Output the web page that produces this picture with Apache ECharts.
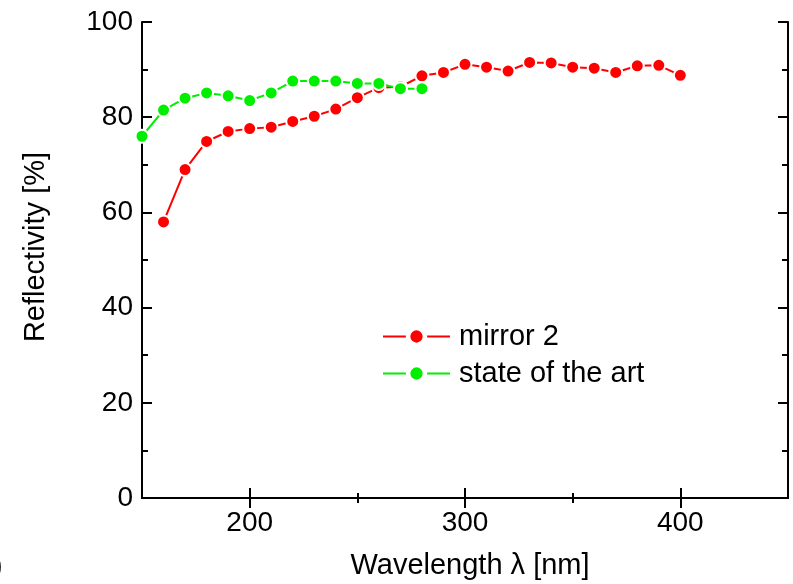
<!DOCTYPE html>
<html>
<head>
<meta charset="utf-8">
<script src="https://cdn.jsdelivr.net/npm/echarts@6/dist/echarts.min.js"></script>
<style>
  html, body { margin: 0; padding: 0; background: #fff; }
  #chart { width: 793px; height: 584px; }
</style>
</head>
<body>
<div id="chart"></div>
<script>
// Reflectivity spectra (wavelength in nm, reflectivity in %)
const mirrorWavelength = [160, 170, 180, 190, 200, 210, 220, 230, 240, 250, 260, 270, 280, 290, 300, 310, 320, 330, 340, 350, 360, 370, 380, 390, 400];
const mirrorReflectivity = [58.0, 69.0, 74.9, 77.0, 77.6, 77.9, 79.1, 80.2, 81.7, 84.1, 86.2, 86.4, 88.7, 89.4, 91.1, 90.5, 89.7, 91.5, 91.4, 90.5, 90.3, 89.4, 90.8, 90.9, 88.8];

const artWavelength = [150, 160, 170, 180, 190, 200, 210, 220, 230, 240, 250, 260, 270, 280];
const artReflectivity = [76.0, 81.5, 84.0, 85.1, 84.5, 83.5, 85.1, 87.6, 87.6, 87.6, 87.1, 87.1, 86.0, 86.0];

const seriesNames = ['mirror 2', 'state of the art'];
const xMajorTicks = [200, 300, 400];
const xMinorTicks = [250, 350];
const yMajorTicks = [0, 20, 40, 60, 80, 100];
const yMinorTicks = [10, 30, 50, 70, 90];

const FONT = '"Liberation Sans", Arial, Helvetica, sans-serif';
const FS_TICK = 28;
const FS_TEXT = 29;

const zip = (xs, ys) => xs.map((x, i) => [x, ys[i]]);

const chart = echarts.init(document.getElementById('chart'), null, { renderer: 'canvas' });

const lineAxis = { show: true, lineStyle: { color: '#000', width: 2 } };
const noLine = { show: false };

function xAx(pos, ticks, len, labels, line) {
  return {
    type: 'value', position: pos, min: 150, max: 450, interval: 50,
    axisLine: line ? lineAxis : noLine,
    splitLine: { show: false },
    axisTick: { show: true, inside: true, length: len, customValues: ticks, lineStyle: { color: '#000', width: 2 } },
    axisLabel: labels ? { show: true, customValues: xMajorTicks, color: '#000', fontFamily: FONT, fontSize: FS_TICK, margin: 11 } : { show: false }
  };
}
function yAx(pos, ticks, len, labels, line) {
  return {
    type: 'value', position: pos, min: 0, max: 100, interval: 10,
    axisLine: line ? lineAxis : noLine,
    splitLine: { show: false },
    axisTick: { show: true, inside: true, length: len, customValues: ticks, lineStyle: { color: '#000', width: 2 } },
    axisLabel: labels ? { show: true, customValues: yMajorTicks, color: '#000', fontFamily: FONT, fontSize: FS_TICK, margin: 9 } : { show: false }
  };
}

const markerStyle = (color) => ({ color: color, borderColor: '#fff', borderWidth: 2 });

chart.setOption({
  animation: false,
  backgroundColor: '#fff',
  grid: { left: 142, right: 5, top: 22, bottom: 86, containLabel: false },
  xAxis: [
    xAx('bottom', xMajorTicks, 10, true, true),
    xAx('bottom', xMinorTicks, 5, false, false),
    xAx('top', xMajorTicks, 10, false, true),
    xAx('top', xMinorTicks, 5, false, false)
  ],
  yAxis: [
    yAx('left', yMajorTicks, 10, true, true),
    yAx('left', yMinorTicks, 6, false, false),
    yAx('right', yMajorTicks, 10, false, true),
    yAx('right', yMinorTicks, 6, false, false)
  ],
  legend: {
    left: 382, top: 322, padding: 0,
    orient: 'vertical',
    itemWidth: 67, itemHeight: 21, itemGap: 8,
    itemStyle: { borderColor: '#fff', borderWidth: 4.5 },
    textStyle: { color: '#000', fontFamily: FONT, fontSize: FS_TEXT, padding: [0, 0, 0, 4] },
    data: seriesNames
  },
  series: [
    {
      name: seriesNames[0], type: 'line', xAxisIndex: 0, yAxisIndex: 0,
      data: zip(mirrorWavelength, mirrorReflectivity),
      symbol: 'circle', symbolSize: 13,
      lineStyle: { color: '#ff0000', width: 2 },
      itemStyle: markerStyle('#ff0000'),
      emphasis: { disabled: true }
    },
    {
      name: seriesNames[1], type: 'line', xAxisIndex: 0, yAxisIndex: 0,
      data: zip(artWavelength, artReflectivity),
      symbol: 'circle', symbolSize: 13,
      lineStyle: { color: '#00ee00', width: 2 },
      itemStyle: markerStyle('#00ee00'),
      emphasis: { disabled: true }
    }
  ],
  graphic: [
    {
      type: 'text', x: 470, y: 566,
      style: { text: 'Wavelength λ [nm]', fill: '#000', font: FS_TEXT + 'px ' + FONT, textAlign: 'center', textVerticalAlign: 'middle' }
    },
    {
      type: 'text', x: 36, y: 247, rotation: Math.PI / 2,
      style: { text: 'Reflectivity [%]', fill: '#000', font: FS_TEXT + 'px ' + FONT, textAlign: 'center', textVerticalAlign: 'middle' }
    },
    {
      type: 'text', x: -7, y: 567,
      style: { text: ')', fill: '#000', font: FS_TEXT + 'px ' + FONT, textAlign: 'left', textVerticalAlign: 'middle' }
    }
  ]
});
</script>
</body>
</html>
